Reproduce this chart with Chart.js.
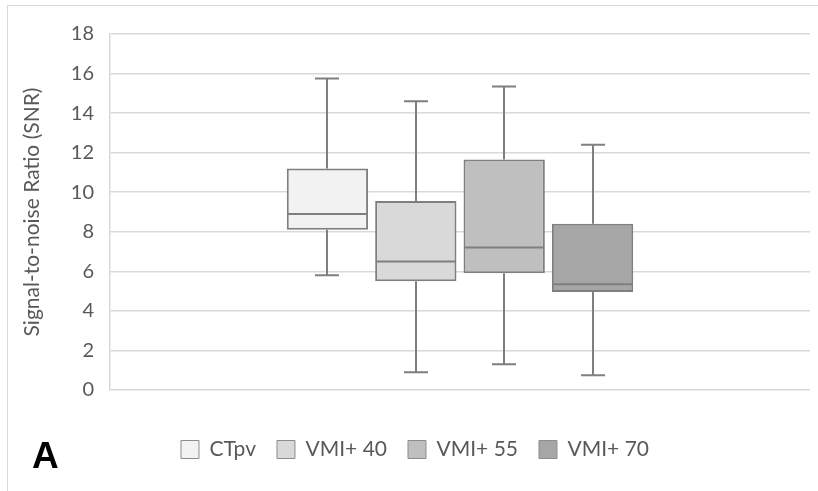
<!DOCTYPE html>
<html>
<head>
<meta charset="utf-8">
<script src="https://cdn.jsdelivr.net/npm/chart.js@4"></script>
<style>
  html, body { margin: 0; padding: 0; background: #fff; width: 818px; height: 491px; overflow: hidden; }
  #frame { position: absolute; left: 7px; top: 5px; width: 830px; height: 500px; border: 1px solid #d9d9d9; background: #fff; }
  #wrap { position: absolute; left: 0; top: 0; width: 830px; height: 500px; }
  #panel { position: absolute; left: 24px; top: 429px; font: bold 37px "Liberation Sans", Arial, sans-serif; color: #000; }
</style>
</head>
<body>
<div id="frame">
  <div id="wrap"><canvas id="c"></canvas></div>
  <div id="panel">A</div>
</div>
<script>
// Box-plot statistics per reconstruction series
const seriesNames = ['CTpv', 'VMI+ 40', 'VMI+ 55', 'VMI+ 70'];
const minVals    = [5.8, 0.9, 1.3, 0.75];
const q1Vals     = [8.1, 5.5, 5.9, 4.95];
const medianVals = [8.9, 6.5, 7.2, 5.35];
const q3Vals     = [11.2, 9.55, 11.65, 8.4];
const maxVals    = [15.75, 14.6, 15.35, 12.4];
const fillColors = ['#f2f2f2', '#d9d9d9', '#bfbfbf', '#a6a6a6'];
const yTicks     = [0, 2, 4, 6, 8, 10, 12, 14, 16, 18];

const lineColor = '#7f7f7f';
const font = '"Lato", "Liberation Sans", sans-serif';

const datasets = seriesNames.map((name, i) => ({
  label: name,
  data: [[q1Vals[i], q3Vals[i]]],
  backgroundColor: fillColors[i],
  borderColor: lineColor,
  borderWidth: 2,
  borderSkipped: false,
  barPercentage: 0.92,
  categoryPercentage: 0.505
}));

// Whiskers, caps and median lines drawn from the bar elements and the y scale
const boxPlotParts = {
  id: 'boxPlotParts',
  afterDatasetsDraw(chart) {
    const ctx = chart.ctx;
    const y = chart.scales.y;
    ctx.save();
    ctx.strokeStyle = lineColor;
    ctx.lineWidth = 2;
    chart.data.datasets.forEach((ds, i) => {
      const bar = chart.getDatasetMeta(i).data[0];
      if (!bar) return;
      const x = Math.round(bar.x);
      const half = bar.width / 2;
      const cap = 12;
      const yMin = y.getPixelForValue(minVals[i]);
      const yQ1 = y.getPixelForValue(q1Vals[i]);
      const yMed = y.getPixelForValue(medianVals[i]);
      const yQ3 = y.getPixelForValue(q3Vals[i]);
      const yMax = y.getPixelForValue(maxVals[i]);
      ctx.beginPath();
      ctx.moveTo(x, yQ3); ctx.lineTo(x, yMax);
      ctx.moveTo(x - cap, yMax); ctx.lineTo(x + cap, yMax);
      ctx.moveTo(x, yQ1); ctx.lineTo(x, yMin);
      ctx.moveTo(x - cap, yMin); ctx.lineTo(x + cap, yMin);
      ctx.moveTo(x - half + 1, yMed); ctx.lineTo(x + half - 1, yMed);
      ctx.stroke();
    });
    ctx.restore();
  }
};

new Chart(document.getElementById('c'), {
  type: 'bar',
  data: { labels: [''], datasets },
  plugins: [boxPlotParts],
  options: {
    responsive: true,
    maintainAspectRatio: false,
    animation: false,
    layout: { padding: { left: 12, right: 28, top: 23.5, bottom: 36 } },
    plugins: {
      tooltip: { enabled: false },
      legend: {
        position: 'bottom',
        labels: {
          boxWidth: 18,
          boxHeight: 18,
          padding: 21,
          color: '#595959',
          font: { family: font, size: 21 },
          generateLabels(chart) {
            return Chart.defaults.plugins.legend.labels.generateLabels(chart).map(item => ({
              ...item, lineWidth: 1, strokeStyle: '#8c8c8c'
            }));
          }
        }
      }
    },
    scales: {
      x: {
        grid: { display: false },
        border: { display: false },
        ticks: { display: false },
        afterFit(scale) { scale.height = 28; }
      },
      y: {
        min: 0,
        max: 18,
        afterBuildTicks(scale) { scale.ticks = yTicks.map(v => ({ value: v })); },
        afterFit(scale) { scale.width = 90; },
        grid: { color: '#d9d9d9', lineWidth: 1.5, drawTicks: false },
        border: { display: true, color: '#d9d9d9', width: 1.5 },
        ticks: { color: '#595959', padding: 16, font: { family: font, size: 20 } },
        title: {
          display: true,
          text: 'Signal-to-noise Ratio (SNR)',
          color: '#595959',
          font: { family: font, size: 21 },
          padding: 0
        }
      }
    }
  }
});
</script>
</body>
</html>
